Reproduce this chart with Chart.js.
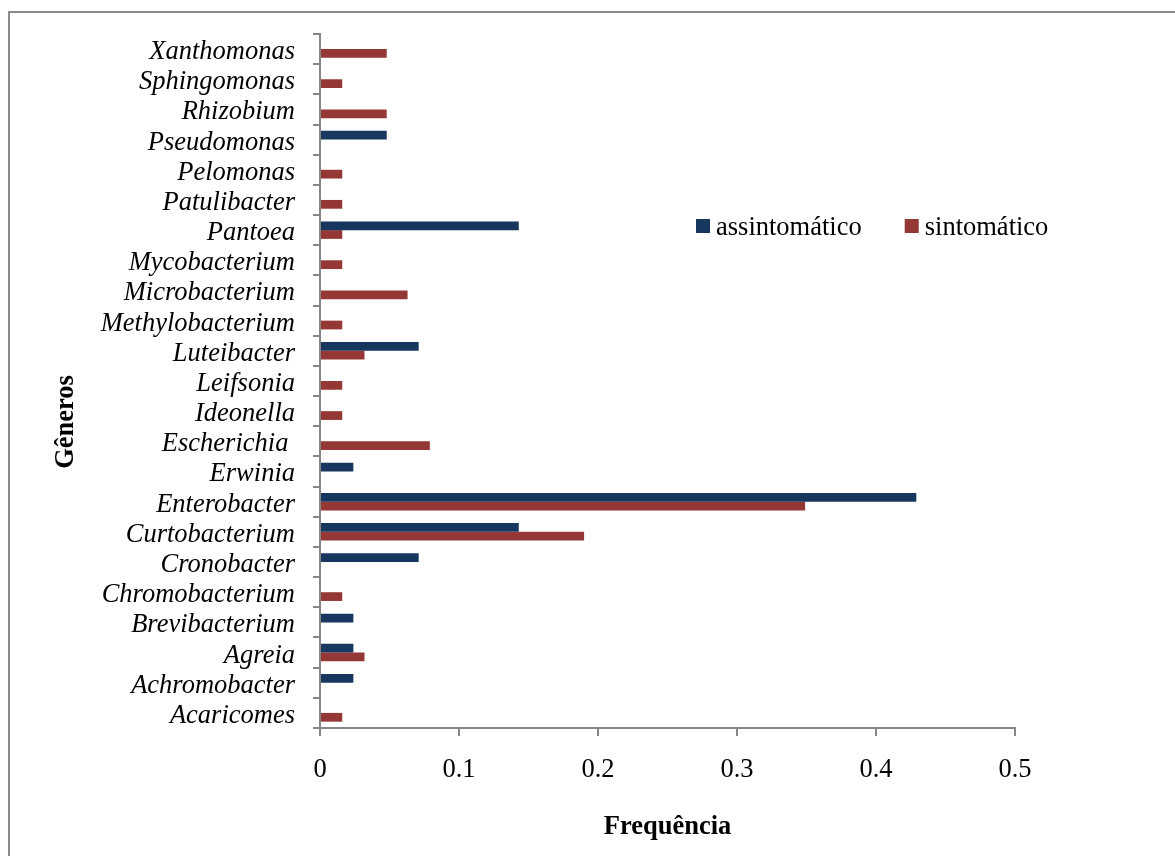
<!DOCTYPE html>
<html>
<head>
<meta charset="utf-8">
<script src="https://cdn.jsdelivr.net/npm/chart.js@4/dist/chart.umd.min.js"></script>
<style>
  html, body { margin: 0; padding: 0; background: #fff; overflow: hidden; }
  #wrap { position: relative; width: 1175px; height: 856px; }
  #frame { position: absolute; left: 8px; top: 11px; width: 1300px; height: 1000px;
           border-left: 2px solid #898989; border-top: 2px solid #898989; pointer-events: none; }
  canvas { position: absolute; left: 0; top: 0; }
</style>
</head>
<body>
<div id="wrap">
  <canvas id="c" width="1175" height="856"></canvas>
  <div id="frame"></div>
</div>
<script>
const generos = ['Xanthomonas','Sphingomonas','Rhizobium','Pseudomonas','Pelomonas','Patulibacter','Pantoea','Mycobacterium','Microbacterium','Methylobacterium','Luteibacter','Leifsonia','Ideonella','Escherichia ','Erwinia','Enterobacter','Curtobacterium','Cronobacter','Chromobacterium','Brevibacterium','Agreia','Achromobacter','Acaricomes'];
const assintomatico = [null,null,null,0.048,null,null,0.143,null,null,null,0.071,null,null,null,0.024,0.429,0.143,0.071,null,0.024,0.024,0.024,null];
const sintomatico = [0.048,0.016,0.048,null,0.016,0.016,0.016,0.016,0.063,0.016,0.032,0.016,0.016,0.079,null,0.349,0.190,null,0.016,null,0.032,null,0.016];
const seriesNames = ['assintomático','sintomático'];
const xTicks = [0, 0.1, 0.2, 0.3, 0.4, 0.5];
const xTitle = 'Frequência';
const yTitle = 'Gêneros';

const FONT = '"Liberation Serif", "Times New Roman", serif';
const FS = 26.5;
const AXIS = '#868686';

const extras = {
  id: 'extras',
  afterDraw(chart) {
    const ctx = chart.ctx;
    ctx.save();
    // y axis title
    ctx.font = 'bold ' + FS + 'px ' + FONT;
    ctx.fillStyle = '#000';
    ctx.textAlign = 'center';
    ctx.textBaseline = 'middle';
    ctx.translate(66, 422);
    ctx.rotate(-Math.PI / 2);
    ctx.fillText(yTitle, 0, 0);
    ctx.restore();
    // legend
    ctx.save();
    ctx.font = FS + 'px ' + FONT;
    ctx.textAlign = 'left';
    ctx.textBaseline = 'alphabetic';
    let x = 696;
    chart.data.datasets.forEach(ds => {
      ctx.fillStyle = ds.backgroundColor;
      ctx.fillRect(x, 219, 14, 14);
      ctx.fillStyle = '#000';
      ctx.fillText(ds.label, x + 20, 235);
      x += 20 + ctx.measureText(ds.label).width + 43;
    });
    ctx.restore();
  }
};

new Chart(document.getElementById('c'), {
  type: 'bar',
  data: {
    labels: generos,
    datasets: [
      { label: seriesNames[0], data: assintomatico, backgroundColor: '#17375E',
        borderWidth: 0, barPercentage: 1, categoryPercentage: 0.58 },
      { label: seriesNames[1], data: sintomatico, backgroundColor: '#953735',
        borderWidth: 0, barPercentage: 1, categoryPercentage: 0.58 }
    ]
  },
  options: {
    indexAxis: 'y',
    responsive: false,
    animation: false,
    layout: { padding: { left: 49, top: 34, right: 160, bottom: 13 } },
    plugins: { legend: { display: false }, tooltip: { enabled: false } },
    scales: {
      x: {
        type: 'linear', min: 0, max: 0.5,
        afterBuildTicks(scale) { scale.ticks = xTicks.map(v => ({ value: v })); },
        afterFit(scale) { scale.height = 115; },
        grid: { drawOnChartArea: false, drawTicks: true, tickLength: 8, color: AXIS, lineWidth: 2 },
        border: { display: true, color: AXIS, width: 2 },
        ticks: { color: '#000', font: { family: FONT, size: FS }, padding: 18, maxRotation: 0,
                 callback: v => String(v) },
        title: { display: true, text: xTitle, color: '#000', padding: 0,
                 font: { family: FONT, size: FS, weight: 'bold' } }
      },
      y: {
        type: 'category', offset: true,
        afterFit(scale) { scale.width = 271; },
        grid: { offset: true, drawOnChartArea: false, drawTicks: true, tickLength: 7, color: AXIS, lineWidth: 2 },
        border: { display: true, color: AXIS, width: 2 },
        ticks: { color: '#000', font: { family: FONT, size: FS, style: 'italic' }, padding: 18,
                 autoSkip: false, labelOffset: 3 }
      }
    }
  },
  plugins: [extras]
});
</script>
</body>
</html>
